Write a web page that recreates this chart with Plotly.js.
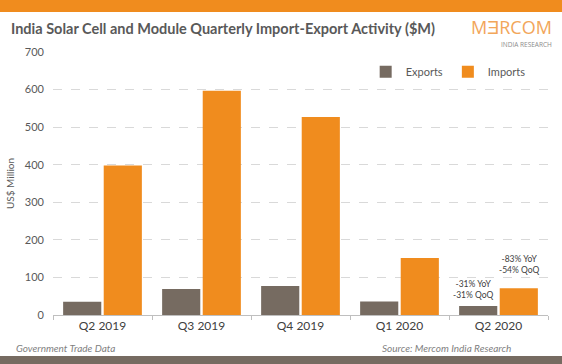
<!DOCTYPE html>
<html><head><meta charset="utf-8">
<script src="https://cdn.plot.ly/plotly-3.0.1.min.js"></script>
<style>body{margin:0;padding:0;background:#fff}#chart{width:562px;height:364px}</style>
</head><body><div id="chart"></div>
<script>
var quarters = ["Q2 2019","Q3 2019","Q4 2019","Q1 2020","Q2 2020"];
var exportsM = [35, 69, 77, 36, 24];
var importsM = [398, 597, 527, 152, 71];
var yTicks = [0,100,200,300,400,500,600,700];

var gray = "#766b61", orange = "#f08c1e", txt = "#595959";
var font = "Lato, 'Open Sans', sans-serif";

var data = [
  {type:"bar", name:"Exports", x:quarters, y:exportsM, marker:{color:gray}, hoverinfo:"none"},
  {type:"bar", name:"Imports", x:quarters, y:importsM, marker:{color:orange}, hoverinfo:"none"}
];
var layout = {
  width:562, height:364,
  margin:{l:53, r:14, t:52, b:49, autoexpand:false},
  paper_bgcolor:"#fff", plot_bgcolor:"#fff",
  font:{family:font, color:txt, size:11},
  barmode:"group", bargap:0.18, bargroupgap:0.06,
  showlegend:true,
  legend:{orientation:"h", x:0.965, y:0.925, xanchor:"right", yanchor:"middle",
    font:{size:11, color:txt}, bgcolor:"rgba(0,0,0,0)", itemwidth:30},
  xaxis:{showline:true, linecolor:"#bfbfbf", linewidth:1, ticks:"outside", ticklen:4, tickcolor:"#bfbfbf",
    tickson:"boundaries", tickfont:{size:12, color:"#404040", family:font}, fixedrange:true},
  yaxis:{range:[0,700], tickvals:yTicks, showgrid:true, gridcolor:"#d9d9d9", griddash:"dash", gridwidth:1,
    zeroline:false, showline:false, ticks:"", tickfont:{size:11, color:txt}, ticklabelstandoff:8,
    title:{text:"US$ Million", font:{size:10, color:txt}, standoff:8}},
  shapes:[
    {type:"rect", xref:"paper", yref:"paper", x0:-0.1071, x1:1.0283, y0:1.152, y1:1.2, fillcolor:orange, line:{width:0}, layer:"above"},
    {type:"rect", xref:"paper", yref:"paper", x0:-0.1071, x1:1.0283, y0:-0.156, y1:-0.19, fillcolor:gray, line:{width:0}, layer:"above"}
  ],
  annotations:[
    {xref:"paper", yref:"paper", x:-0.088, y:1.09, xanchor:"left", yanchor:"middle", showarrow:false,
      text:"<b>India Solar Cell and Module Quarterly Import-Export Activity ($M)</b>", font:{size:14.5, color:txt, family:font}},
    {xref:"paper", yref:"paper", x:1.012, y:1.095, xanchor:"right", yanchor:"middle", showarrow:false,
      text:"M\u018eRCOM", font:{size:18, color:"#f2a65a", family:"'Open Sans', sans-serif"}},
    {xref:"paper", yref:"paper", x:1.012, y:1.03, xanchor:"right", yanchor:"middle", showarrow:false,
      text:"INDIA RESEARCH", font:{size:6.5, color:"#8c8c8c", family:"'Open Sans', sans-serif"}},
    {xref:"paper", yref:"paper", x:-0.078, y:-0.125, xanchor:"left", yanchor:"middle", showarrow:false,
      text:"<i>Government Trade Data</i>", font:{size:10, color:"#7f7f7f"}},
    {xref:"paper", yref:"paper", x:0.93, y:-0.125, xanchor:"right", yanchor:"middle", showarrow:false,
      text:"<i>Source: Mercom India Research</i>", font:{size:10, color:"#7f7f7f"}},
    {xref:"x", yref:"y", x:quarters[4], xshift:-25, y:exportsM[4], yshift:4, yanchor:"bottom", showarrow:false,
      text:"-31% YoY<br>-31% QoQ", font:{size:8.5, color:"#404040"}, align:"center"},
    {xref:"x", yref:"y", x:quarters[4], xshift:21, y:importsM[4], yshift:11, yanchor:"bottom", showarrow:false,
      text:"-83% YoY<br>-54% QoQ", font:{size:8.5, color:"#404040"}, align:"center"}
  ]
};
Plotly.newPlot("chart", data, layout, {displayModeBar:false, staticPlot:true});
</script></body></html>
